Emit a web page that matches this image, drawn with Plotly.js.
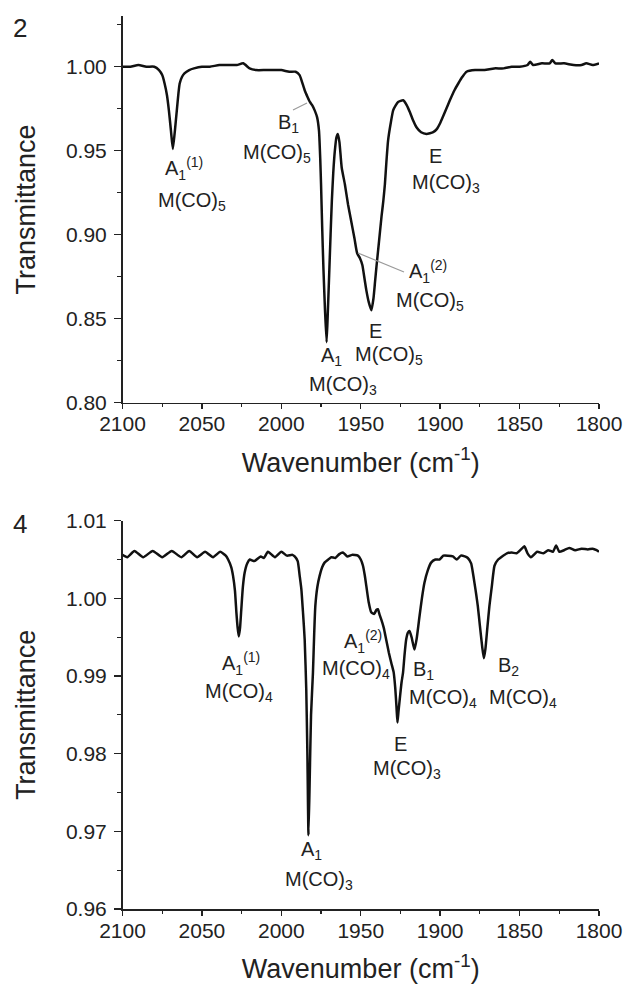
<!DOCTYPE html>
<html>
<head>
<meta charset="utf-8">
<script src="https://cdn.plot.ly/plotly-3.0.1.min.js"></script>
<style>
  html, body { margin: 0; padding: 0; background: #fff; }
  #chart { width: 629px; height: 989px; }
</style>
</head>
<body>
<div id="chart"></div>
<script>
// ---- Panel 2 spectrum (wavenumber in cm-1, transmittance) ----
const wn2 = [2100, 2095, 2090, 2085, 2080, 2077, 2075, 2073.5, 2072, 2070.8, 2069.5, 2068.3, 2067, 2065.8, 2064.8, 2064, 2062.5, 2061, 2058, 2055, 2050, 2045, 2039, 2033, 2028, 2024, 2020, 2016, 2010, 2005, 2000, 1995, 1991, 1988.5, 1987, 1985.3, 1983.5, 1982, 1980.5, 1979, 1977.5, 1976.3, 1975.5, 1975, 1974.3, 1973.5, 1972.5, 1971.5, 1970.8, 1970, 1969, 1968.2, 1967.3, 1966.3, 1965.3, 1964.4, 1963.4, 1962, 1960, 1958, 1956, 1954, 1952.3, 1950.5, 1949, 1947.5, 1946.5, 1945, 1943.3, 1942, 1941, 1940.1, 1938.5, 1936.9, 1935.8, 1934.8, 1933.8, 1932.8, 1931.2, 1929.6, 1928, 1926.5, 1923.3, 1921, 1919.1, 1917, 1914.9, 1912, 1908.6, 1904.4, 1902, 1900.2, 1897, 1893.9, 1891, 1888.6, 1886, 1883.4, 1878, 1872, 1866, 1860, 1855, 1850, 1845, 1843.3, 1841.5, 1836, 1831, 1829.4, 1827.5, 1822, 1816, 1811, 1808, 1804, 1800];
const tr2 = [1.000, 1.000, 1.001, 1.000, 1.000, 0.998, 0.995, 0.990, 0.983, 0.974, 0.962, 0.951, 0.962, 0.974, 0.984, 0.990, 0.994, 0.996, 0.998, 0.999, 1.000, 1.000, 1.001, 1.001, 1.001, 1.002, 0.999, 0.998, 0.998, 0.998, 0.998, 0.997, 0.997, 0.995, 0.991, 0.986, 0.982, 0.979, 0.977, 0.974, 0.970, 0.962, 0.945, 0.930, 0.905, 0.880, 0.855, 0.836, 0.852, 0.873, 0.900, 0.920, 0.937, 0.950, 0.958, 0.960, 0.955, 0.940, 0.930, 0.918, 0.908, 0.898, 0.889, 0.886, 0.882, 0.873, 0.867, 0.860, 0.855, 0.862, 0.872, 0.881, 0.896, 0.911, 0.920, 0.930, 0.944, 0.956, 0.966, 0.974, 0.977, 0.979, 0.980, 0.977, 0.973, 0.968, 0.964, 0.961, 0.960, 0.961, 0.963, 0.966, 0.973, 0.980, 0.986, 0.990, 0.994, 0.997, 0.998, 0.998, 0.999, 0.999, 1.000, 1.000, 1.001, 1.003, 1.001, 1.002, 1.002, 1.004, 1.002, 1.002, 1.001, 1.001, 1.002, 1.001, 1.002];

// ---- Panel 4 spectrum ----
const wn4 = [2100, 2097, 2092.5, 2087, 2081, 2075, 2069, 2063, 2058, 2053, 2048, 2043, 2038.5, 2035, 2033.5, 2031.5, 2030.4, 2029.2, 2028.3, 2027.5, 2026.8, 2026, 2025.2, 2024.2, 2023.1, 2021.5, 2019.9, 2017, 2013, 2011, 2008.4, 2004, 2000, 1996.5, 1993, 1991.6, 1989.7, 1988.5, 1987.4, 1986.3, 1985.3, 1984.3, 1983.6, 1982.9, 1982.1, 1981.3, 1980.1, 1979.3, 1978.6, 1977.3, 1975.9, 1974.3, 1972.8, 1970.5, 1968.6, 1966, 1963.5, 1961.2, 1958.5, 1955.5, 1951.8, 1950, 1948.6, 1947.5, 1946.5, 1945, 1943.4, 1941.5, 1940.2, 1939.2, 1938, 1937.1, 1935.5, 1934, 1932.3, 1930.8, 1929.3, 1928.3, 1927.5, 1926.9, 1926.2, 1925.2, 1924.3, 1923.4, 1922.4, 1921.4, 1920.3, 1919.3, 1918, 1916.2, 1914.8, 1913, 1911.5, 1909.9, 1907.8, 1905.7, 1903, 1900.4, 1898, 1895.2, 1892, 1889.5, 1887, 1884.5, 1882.6, 1880.5, 1879.4, 1878.4, 1877.3, 1876.3, 1875, 1873.5, 1872.5, 1871.5, 1870.3, 1869, 1867.5, 1865.8, 1863.5, 1861.6, 1858, 1855, 1852, 1849.1, 1847, 1845, 1842.8, 1839, 1835, 1832, 1829, 1827, 1825, 1822, 1818.7, 1815, 1811, 1807, 1804, 1801.5, 1800];
const tr4 = [1.0056, 1.0053, 1.0061, 1.0053, 1.0061, 1.0053, 1.0061, 1.0053, 1.0061, 1.0053, 1.0060, 1.0053, 1.0060, 1.0055, 1.0050, 1.0040, 1.0029, 1.0010, 0.9982, 0.9962, 0.9951, 0.9962, 0.9986, 1.0015, 1.0033, 1.0045, 1.0050, 1.0048, 1.0054, 1.0052, 1.0060, 1.0053, 1.0060, 1.0055, 1.0056, 1.0054, 1.0048, 1.0030, 1.0012, 0.9980, 0.9947, 0.9882, 0.9800, 0.9695, 0.9770, 0.9850, 0.9904, 0.9955, 0.9990, 1.0015, 1.0029, 1.0040, 1.0046, 1.0050, 1.0053, 1.0052, 1.0057, 1.0059, 1.0054, 1.0056, 1.0055, 1.0050, 1.0042, 1.0030, 1.0016, 0.9995, 0.9982, 0.9980, 0.9985, 0.9986, 0.9978, 0.9973, 0.9962, 0.9947, 0.9930, 0.9917, 0.9905, 0.9885, 0.9860, 0.9840, 0.9855, 0.9875, 0.9892, 0.9904, 0.9928, 0.9947, 0.9956, 0.9958, 0.9950, 0.9934, 0.9948, 0.9977, 1.0000, 1.0020, 1.0036, 1.0046, 1.0050, 1.0050, 1.0055, 1.0055, 1.0054, 1.0050, 1.0055, 1.0054, 1.0052, 1.0045, 1.0033, 1.0020, 1.0005, 0.9990, 0.9965, 0.9937, 0.9923, 0.9935, 0.9962, 0.9990, 1.0015, 1.0042, 1.0050, 1.0053, 1.0058, 1.0059, 1.0058, 1.0063, 1.0067, 1.0058, 1.0053, 1.0060, 1.0058, 1.0062, 1.0060, 1.0068, 1.0060, 1.0062, 1.0065, 1.0062, 1.0064, 1.0063, 1.0064, 1.0062, 1.0060];

// ---- Tick values ----
const xTicks = [2100, 2050, 2000, 1950, 1900, 1850, 1800];
const yTicks2 = [0.80, 0.85, 0.90, 0.95, 1.00];
const yTicks4 = [0.96, 0.97, 0.98, 0.99, 1.00, 1.01];

// ---- Peak labels: [text, px, py] ----
const labels = [
  ["A<sub>1</sub><sup>(1)</sup>", 184, 168],
  ["M(CO)<sub>5</sub>", 192, 201],
  ["B<sub>1</sub>", 288, 124],
  ["M(CO)<sub>5</sub>", 277, 153],
  ["E", 435, 156],
  ["M(CO)<sub>3</sub>", 446, 183],
  ["A<sub>1</sub>", 331, 357],
  ["M(CO)<sub>3</sub>", 343, 385],
  ["E", 375, 331],
  ["M(CO)<sub>5</sub>", 389, 355],
  ["A<sub>1</sub><sup>(2)</sup>", 428, 271],
  ["M(CO)<sub>5</sub>", 430, 301],
  ["A<sub>1</sub><sup>(1)</sup>", 241, 663],
  ["M(CO)<sub>4</sub>", 239, 692],
  ["A<sub>1</sub>", 311, 850],
  ["M(CO)<sub>3</sub>", 319, 880],
  ["A<sub>1</sub><sup>(2)</sup>", 363, 641],
  ["M(CO)<sub>4</sub>", 356, 669],
  ["E", 400, 744],
  ["M(CO)<sub>3</sub>", 407, 769],
  ["B<sub>1</sub>", 423, 670],
  ["M(CO)<sub>4</sub>", 443, 698],
  ["B<sub>2</sub>", 508, 666],
  ["M(CO)<sub>4</sub>", 523, 698]
];
const panelLabels = [["2", 20, 28], ["4", 20, 524]];

const W = 629, H = 989;
const px = v => v / W;
const py = v => 1 - v / H;
const FONT = "Liberation Sans, Arial, Helvetica, sans-serif";
const INK = "#222";

const annotations = labels.map(([t, x, y]) => ({
  text: t, xref: "paper", yref: "paper", x: px(x), y: py(y),
  xanchor: "center", yanchor: "middle", showarrow: false,
  font: {family: FONT, size: 20, color: INK}
})).concat(panelLabels.map(([t, x, y]) => ({
  text: t, xref: "paper", yref: "paper", x: px(x), y: py(y),
  xanchor: "center", yanchor: "middle", showarrow: false,
  font: {family: FONT, size: 26, color: INK}
})));

const leader = (x0, y0, x1, y1) => ({
  type: "line", xref: "paper", yref: "paper",
  x0: px(x0), y0: py(y0), x1: px(x1), y1: py(y1),
  line: {color: "#9a9a9a", width: 1.2}
});

const xAxisCommon = {
  range: [2100, 1800], tickvals: xTicks, ticktext: xTicks.map(String),
  showline: true, linecolor: INK, linewidth: 1.5, mirror: false,
  ticks: "outside", ticklen: 5, tickwidth: 1.4, tickcolor: INK,
  minor: {dtick: 25, tick0: 2100, ticks: "outside", ticklen: 3, tickwidth: 1.2, tickcolor: INK},
  showgrid: false, zeroline: false,
  tickfont: {family: FONT, size: 21, color: INK},
  ticklabelstandoff: -3,
  title: {text: "Wavenumber (cm<sup>-1</sup>)", font: {family: FONT, size: 27, color: INK}, standoff: 18}
};
const yAxisCommon = {
  showline: true, linecolor: INK, linewidth: 1.5, mirror: false,
  ticks: "outside", ticklen: 7, tickwidth: 1.4, tickcolor: INK,
  showgrid: false, zeroline: false, tickformat: ".2f",
  tickfont: {family: FONT, size: 21, color: INK},
  ticklabelstandoff: 3,
  title: {text: "Transmittance", font: {family: FONT, size: 27, color: INK}, standoff: 22}
};

const xDom = [122.5 / W, 599 / W];

const layout = {
  width: W, height: H,
  margin: {l: 0, r: 0, t: 0, b: 0},
  paper_bgcolor: "#fff", plot_bgcolor: "#fff",
  showlegend: false,
  xaxis: Object.assign({}, xAxisCommon, {domain: xDom, anchor: "y"}),
  yaxis: Object.assign({}, yAxisCommon, {
    domain: [py(402.7), py(16.3)], anchor: "x",
    range: [0.80, 1.03], tickvals: yTicks2,
    minor: {dtick: 0.025, tick0: 0.8, ticks: "outside", ticklen: 4, tickwidth: 1.2, tickcolor: INK}
  }),
  xaxis2: Object.assign({}, xAxisCommon, {domain: xDom, anchor: "y2"}),
  yaxis2: Object.assign({}, yAxisCommon, {
    domain: [py(909), py(520.7)], anchor: "x2",
    range: [0.96, 1.01], tickvals: yTicks4,
    minor: {dtick: 0.005, tick0: 0.96, ticks: "outside", ticklen: 4, tickwidth: 1.2, tickcolor: INK}
  }),
  annotations: annotations,
  shapes: [leader(293, 110, 307, 103), leader(358, 253, 404, 272)]
};

const traces = [
  {x: wn2, y: tr2, xaxis: "x", yaxis: "y", type: "scatter", mode: "lines",
   line: {color: "#111", width: 2.5, shape: "spline", smoothing: 0.5}, hoverinfo: "skip"},
  {x: wn4, y: tr4, xaxis: "x2", yaxis: "y2", type: "scatter", mode: "lines",
   line: {color: "#111", width: 2.5, shape: "spline", smoothing: 0.5}, hoverinfo: "skip"}
];

Plotly.newPlot("chart", traces, layout, {staticPlot: true, displayModeBar: false});
</script>
</body>
</html>
